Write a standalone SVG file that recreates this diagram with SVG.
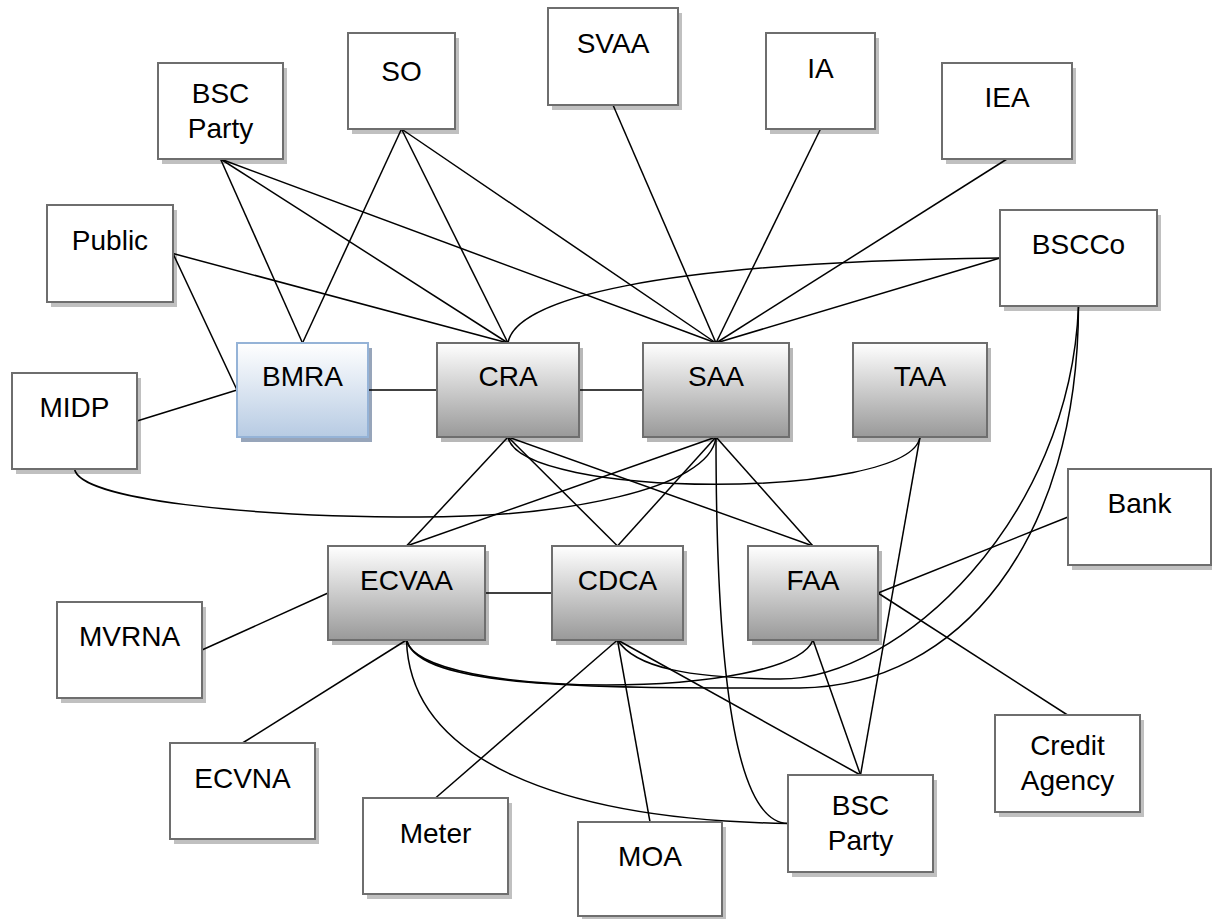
<svg xmlns="http://www.w3.org/2000/svg" width="1212" height="919" viewBox="0 0 1212 919">
<defs>
<linearGradient id="gGray" x1="0" y1="0" x2="0" y2="1">
<stop offset="0" stop-color="#ffffff"/>
<stop offset="1" stop-color="#999999"/>
</linearGradient>
<linearGradient id="gBlue" x1="0" y1="0" x2="0" y2="1">
<stop offset="0" stop-color="#ffffff"/>
<stop offset="1" stop-color="#b7cbe3"/>
</linearGradient>
</defs>
<style>
.sh{fill:#c0c0c0}
.shg{fill:#b8b8b8}
.shb{fill:#97a5ba}
.w{fill:#ffffff;stroke:#6e6e6e;stroke-width:2}
.g{fill:url(#gGray);stroke:#6e6e6e;stroke-width:2}
.b{fill:url(#gBlue);stroke:#95b3d7;stroke-width:2}
text{font-family:"Liberation Sans",Arial,sans-serif;font-size:28px;fill:#000;text-anchor:middle}
.c path,.c line{fill:none;stroke:#000;stroke-width:1.5}
</style>
<rect width="1212" height="919" fill="#ffffff"/>

<g id="nodes-shadows">
<rect class="sh" x="162" y="68" width="125" height="96"/>
<rect class="sh" x="352" y="38" width="107" height="96"/>
<rect class="sh" x="552" y="13" width="130" height="97"/>
<rect class="sh" x="770" y="38" width="109" height="96"/>
<rect class="sh" x="946" y="68" width="130" height="96"/>
<rect class="sh" x="1004" y="215" width="157" height="96"/>
<rect class="sh" x="51" y="210" width="126" height="97"/>
<rect class="sh" x="16" y="378" width="125" height="96"/>
<rect class="shb" x="241" y="348" width="131" height="94"/>
<rect class="shg" x="441" y="348" width="142" height="94"/>
<rect class="shg" x="647" y="348" width="146" height="94"/>
<rect class="shg" x="857" y="348" width="134" height="94"/>
<rect class="shg" x="332" y="551" width="157" height="94"/>
<rect class="shg" x="556" y="551" width="131" height="94"/>
<rect class="shg" x="752" y="551" width="130" height="94"/>
<rect class="sh" x="61" y="607" width="145" height="96"/>
<rect class="sh" x="174" y="748" width="145" height="96"/>
<rect class="sh" x="367" y="803" width="145" height="96"/>
<rect class="sh" x="582" y="827" width="144" height="94"/>
<rect class="sh" x="792" y="780" width="145" height="97"/>
<rect class="sh" x="999" y="720" width="145" height="97"/>
<rect class="sh" x="1072" y="474" width="143" height="96"/>
</g>

<g id="connectors" class="c">
<line x1="220.5" y1="159" x2="302.5" y2="343"/>
<line x1="220.5" y1="159" x2="508" y2="343"/>
<line x1="220.5" y1="159" x2="716" y2="343"/>
<line x1="401.5" y1="129" x2="302.5" y2="343"/>
<line x1="401.5" y1="129" x2="508" y2="343"/>
<line x1="401.5" y1="129" x2="716" y2="343"/>
<line x1="173" y1="253.5" x2="508" y2="343"/>
<line x1="173" y1="253.5" x2="237" y2="390"/>
<line x1="137" y1="421" x2="237" y2="390"/>
<path d="M74.5,469 C80,500 250,517 420,517 C560,517 710,490 716,437"/>
<line x1="368" y1="390" x2="437" y2="390"/>
<line x1="579" y1="390" x2="643" y2="390"/>
<line x1="613" y1="105" x2="716" y2="343"/>
<line x1="820.5" y1="129" x2="716" y2="343"/>
<line x1="1007" y1="159" x2="716" y2="343"/>
<line x1="1000" y1="258" x2="716" y2="343"/>
<path d="M508,343 C515,300 650,262 1000,258"/>
<path d="M406.5,640 C420,690 600,688 800,688 C960,686 1078,540 1078.5,306"/>
<path d="M617.5,640 C635,668 690,678 780,679 C900,679 1070,520 1078.5,306"/>
<line x1="508" y1="437" x2="406.5" y2="546"/>
<line x1="508" y1="437" x2="617.5" y2="546"/>
<line x1="508" y1="437" x2="813" y2="546"/>
<path d="M508,437 C520,500 910,500 920,437"/>
<line x1="716" y1="437" x2="406.5" y2="546"/>
<line x1="716" y1="437" x2="617.5" y2="546"/>
<line x1="716" y1="437" x2="813" y2="546"/>
<path d="M716,437 C716,700 740,823 788,823.5"/>
<line x1="920" y1="437" x2="860.5" y2="775"/>
<line x1="485" y1="593" x2="552" y2="593"/>
<line x1="328" y1="593" x2="202" y2="650"/>
<line x1="406.5" y1="640" x2="242.5" y2="743"/>
<path d="M406.5,640 C420,700 790,700 813,640"/>
<path d="M406.5,640 C410,760 560,820 788,823.5"/>
<line x1="617.5" y1="640" x2="435.5" y2="798"/>
<line x1="617.5" y1="640" x2="650" y2="822"/>
<line x1="617.5" y1="640" x2="860.5" y2="775"/>
<line x1="813" y1="640" x2="860.5" y2="775"/>
<line x1="878" y1="593" x2="1068" y2="517"/>
<line x1="878" y1="593" x2="1067.5" y2="715"/>
</g>

<g id="n-bscparty-top"><rect class="w" x="158" y="63" width="125" height="96"/><text x="220.5" y="103">BSC</text><text x="220.5" y="138">Party</text></g>
<g id="n-so"><rect class="w" x="348" y="33" width="107" height="96"/><text x="401.5" y="81">SO</text></g>
<g id="n-svaa"><rect class="w" x="548" y="8" width="130" height="97"/><text x="613" y="53">SVAA</text></g>
<g id="n-ia"><rect class="w" x="766" y="33" width="109" height="96"/><text x="820.5" y="78">IA</text></g>
<g id="n-iea"><rect class="w" x="942" y="63" width="130" height="96"/><text x="1007" y="107">IEA</text></g>
<g id="n-bscco"><rect class="w" x="1000" y="210" width="157" height="96"/><text x="1078.5" y="254">BSCCo</text></g>
<g id="n-public"><rect class="w" x="47" y="205" width="126" height="97"/><text x="110" y="250">Public</text></g>
<g id="n-midp"><rect class="w" x="12" y="373" width="125" height="96"/><text x="74.5" y="417">MIDP</text></g>
<g id="n-bmra"><rect class="b" x="237" y="343" width="131" height="94"/><text x="302.5" y="386">BMRA</text></g>
<g id="n-cra"><rect class="g" x="437" y="343" width="142" height="94"/><text x="508" y="386">CRA</text></g>
<g id="n-saa"><rect class="g" x="643" y="343" width="146" height="94"/><text x="716" y="386">SAA</text></g>
<g id="n-taa"><rect class="g" x="853" y="343" width="134" height="94"/><text x="920" y="386">TAA</text></g>
<g id="n-ecvaa"><rect class="g" x="328" y="546" width="157" height="94"/><text x="406.5" y="590">ECVAA</text></g>
<g id="n-cdca"><rect class="g" x="552" y="546" width="131" height="94"/><text x="617.5" y="590">CDCA</text></g>
<g id="n-faa"><rect class="g" x="748" y="546" width="130" height="94"/><text x="813" y="590">FAA</text></g>
<g id="n-mvrna"><rect class="w" x="57" y="602" width="145" height="96"/><text x="129.5" y="646">MVRNA</text></g>
<g id="n-ecvna"><rect class="w" x="170" y="743" width="145" height="96"/><text x="242.5" y="788">ECVNA</text></g>
<g id="n-meter"><rect class="w" x="363" y="798" width="145" height="96"/><text x="435.5" y="843">Meter</text></g>
<g id="n-moa"><rect class="w" x="578" y="822" width="144" height="94"/><text x="650" y="866">MOA</text></g>
<g id="n-bscparty-bottom"><rect class="w" x="788" y="775" width="145" height="97"/><text x="860.5" y="815">BSC</text><text x="860.5" y="850">Party</text></g>
<g id="n-credit"><rect class="w" x="995" y="715" width="145" height="97"/><text x="1067.5" y="755">Credit</text><text x="1067.5" y="790">Agency</text></g>
<g id="n-bank"><rect class="w" x="1068" y="469" width="143" height="96"/><text x="1139.5" y="513">Bank</text></g>
</svg>
